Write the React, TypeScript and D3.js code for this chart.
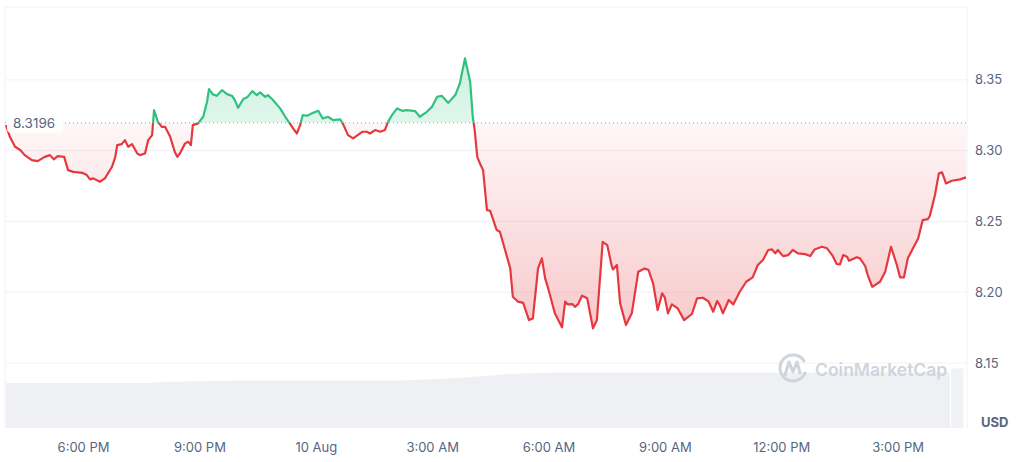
import * as d3 from 'd3';

// minutes after 4:00 PM, 9 Aug
const minutes = [0,6,14,22,29,40,49,60,68,74,80,90,96,104,118,125,130,135,145,153,164,169,172,179,184,189,195,203,207,215,220,226,229,235,241,246,254,261,265,269,277,282,286,289,297,305,311,314,320,326,334,342,350,354,359,367,373,381,388,393,401,405,413,424,432,439,444,450,455,459,466,473,483,490,498,506,517,521,529,537,544,551,558,563,571,579,586,591,597,605,613,620,633,640,651,659,667,674,684,695,702,710,718,722,725,729,733,738,744,749,759,764,772,780,784,792,800,809,815,823,829,834,838,849,860,865,869,876,880,885,891,899,908,914,923,930,937,939,945,950,959,968,978,988,994,1001,1008,1015,1019,1024,1030,1039,1049,1061,1069,1078,1087,1094,1100,1104,1109,1118,1125,1135,1145,1155,1163,1171,1179,1185,1190,1194,1202,1210,1217,1225,1236,1244,1251,1262,1270,1278,1285,1290,1295,1301,1304,1316,1321,1329,1333,1340,1344,1352,1360,1369,1378,1383,1389,1395,1403,1411,1418,1426,1429,1437,1443,1448,1454,1463,1476,1485];

const prices = [8.3180,8.3097,8.3027,8.3004,8.2968,8.2933,8.2926,8.2956,8.2968,8.2938,8.2961,8.2956,8.2862,8.2850,8.2843,8.2827,8.2797,8.2804,8.2780,8.2804,8.2886,8.2954,8.3039,8.3046,8.3074,8.3027,8.3046,8.2980,8.2968,8.2980,8.3074,8.3109,8.3286,8.3203,8.3168,8.3168,8.3097,8.2992,8.2956,8.2980,8.3051,8.3062,8.3039,8.3180,8.3192,8.3239,8.3345,8.3434,8.3397,8.3387,8.3427,8.3399,8.3385,8.3357,8.3302,8.3364,8.3376,8.3420,8.3392,8.3411,8.3380,8.3392,8.3357,8.3298,8.3239,8.3192,8.3157,8.3121,8.3180,8.3251,8.3246,8.3263,8.3281,8.3227,8.3239,8.3215,8.3220,8.3192,8.3109,8.3086,8.3109,8.3133,8.3133,8.3121,8.3145,8.3133,8.3145,8.3203,8.3251,8.3298,8.3281,8.3286,8.3279,8.3239,8.3274,8.3309,8.3380,8.3387,8.3337,8.3392,8.3474,8.3651,8.3486,8.3239,8.3145,8.2956,8.2910,8.2862,8.2580,8.2575,8.2439,8.2427,8.2298,8.2168,8.1968,8.1933,8.1925,8.1803,8.1815,8.2168,8.2239,8.2098,8.2038,8.1851,8.1752,8.1933,8.1914,8.1916,8.1897,8.1916,8.1975,8.1957,8.1745,8.1803,8.2356,8.2333,8.2185,8.2161,8.2192,8.1921,8.1768,8.1851,8.2144,8.2168,8.2156,8.2062,8.1874,8.1992,8.1964,8.1851,8.1914,8.1886,8.1803,8.1846,8.1957,8.1961,8.1933,8.1862,8.1937,8.1909,8.1851,8.1945,8.1914,8.2003,8.2074,8.2105,8.2192,8.2227,8.2298,8.2302,8.2274,8.2298,8.2255,8.2262,8.2298,8.2274,8.2269,8.2255,8.2302,8.2321,8.2310,8.2262,8.2199,8.2197,8.2262,8.2250,8.2222,8.2247,8.2239,8.2185,8.2121,8.2038,8.2050,8.2074,8.2144,8.2321,8.2192,8.2105,8.2105,8.2239,8.2310,8.2380,8.2509,8.2516,8.2538,8.2686,8.2839,8.2846,8.2768,8.2787,8.2797,8.2811];

const volMinutes = [0, 220, 240, 370, 610, 700, 780, 850, 1460];
const volValues = [45, 45, 46, 47.5, 47.5, 50, 54, 55.5, 55.5];
const lastVolStart = 1462;
const lastVolEnd = 1481;
const lastVol = 59.5;

const openPrice = 8.3196;
const yTicks = [8.15, 8.2, 8.25, 8.3, 8.35];

const W = 1024;
const H = 462;
const RED = '#e5393f';
const GREEN = '#2fc27f';
const TEXT = '#58667e';
const GRID = '#eff2f5';
const MARK = '#cfd4dd';
const FONT = 'Inter, "Noto Sans", sans-serif';

const t0 = new Date(2024, 7, 9, 16, 0);
const toDate = (m: number) => new Date(t0.getTime() + m * 60000);

export default function App() {
  const data = d3.zip(minutes, prices).map(([m, p]) => ({ t: toDate(m), p }));
  const vol = d3.zip(volMinutes, volValues).map(([m, v]) => ({ t: toDate(m), v }));

  const x = d3.scaleTime().domain([t0, toDate(1485)]).range([6, 966]);
  const y = d3.scaleLinear().domain([8.15, 8.40]).range([363, 9]);
  const yv = d3.scaleLinear().domain([0, 60]).range([428, 368]);

  const baseY = y(openPrice);
  const line = d3.line<{ t: Date; p: number }>().x(d => x(d.t)).y(d => y(d.p));
  const area = d3.area<{ t: Date; p: number }>().x(d => x(d.t)).y0(baseY).y1(d => y(d.p));
  const volArea = d3.area<{ t: Date; v: number }>().x(d => x(d.t)).y0(yv(0)).y1(d => yv(d.v));

  const xTicks = x.ticks(d3.timeHour.every(3)!);
  const fmtTick = (d: Date) => (d.getHours() === 0 ? d3.timeFormat('%-d %b')(d) : d3.timeFormat('%-I:%M %p')(d));

  const lp = line(data) || '';
  const ap = area(data) || '';

  return (
    <svg width={W} height={H} style={{ position: 'absolute', left: 0, top: 0, fontFamily: FONT }}>
      <defs>
        <clipPath id="above"><rect x={0} y={0} width={W} height={baseY} /></clipPath>
        <clipPath id="below"><rect x={0} y={baseY} width={W} height={H - baseY} /></clipPath>
        <linearGradient id="redFill" gradientUnits="userSpaceOnUse" x1={0} y1={baseY} x2={0} y2={y(8.175)}>
          <stop offset="0" stopColor={RED} stopOpacity={0.04} />
          <stop offset="1" stopColor={RED} stopOpacity={0.27} />
        </linearGradient>
        <linearGradient id="greenFill" gradientUnits="userSpaceOnUse" x1={0} y1={y(8.365)} x2={0} y2={baseY}>
          <stop offset="0" stopColor={GREEN} stopOpacity={0.24} />
          <stop offset="1" stopColor={GREEN} stopOpacity={0.15} />
        </linearGradient>
      </defs>

      {/* frame + grid */}
      <line x1={5} x2={967} y1={7} y2={7} stroke={GRID} />
      <line x1={5} x2={5} y1={7} y2={428} stroke={GRID} />
      <line x1={967} x2={967} y1={7} y2={428} stroke={GRID} />
      {yTicks.map(v => (
        <g key={v}>
          <line x1={5} x2={967} y1={y(v)} y2={y(v)} stroke={GRID} />
          <text x={975} y={y(v)} dy="0.35em" fontSize={13} fill={TEXT}>{v.toFixed(2)}</text>
        </g>
      ))}

      {/* volume */}
      <path d={volArea(vol) || ''} fill="#eef0f3" />
      <rect x={x(toDate(lastVolStart))} y={yv(lastVol)} width={x(toDate(lastVolEnd)) - x(toDate(lastVolStart))} height={yv(0) - yv(lastVol)} fill="#f1f2f5" />

      {/* watermark */}
      <g>
        <path d="M 805 373 A 13 13 0 1 1 804 361" fill="none" stroke={MARK} strokeWidth={3} strokeLinecap="round" />
        <path d="M 785 375 L 789 362 L 793 372 L 797 362 L 800 373" fill="none" stroke={MARK} strokeWidth={3} strokeLinejoin="round" strokeLinecap="round" />
        <text x={815} y={376} fontSize={17.5} fontWeight={600} fill={MARK}>CoinMarketCap</text>
      </g>

      {/* fills */}
      <path d={ap} fill="url(#greenFill)" clipPath="url(#above)" />
      <path d={ap} fill="url(#redFill)" clipPath="url(#below)" />

      {/* open price reference */}
      <line x1={5} x2={967} y1={baseY} y2={baseY} stroke="#9aa1ad" strokeWidth={1} strokeDasharray="1 3" />

      {/* price line */}
      <path d={lp} fill="none" stroke={GREEN} strokeWidth={2.2} strokeLinejoin="round" clipPath="url(#above)" />
      <path d={lp} fill="none" stroke={RED} strokeWidth={2.2} strokeLinejoin="round" clipPath="url(#below)" />

      {/* open label */}
      <rect x={7} y={baseY - 10} width={56} height={20} rx={4} fill="#ffffff" opacity={0.9} />
      <text x={13} y={baseY} dy="0.35em" fontSize={13.5} fill={TEXT}>{openPrice.toFixed(4)}</text>

      {/* x axis */}
      {xTicks.map(d => (
        <text key={+d} x={x(d)} y={447} dy="0.35em" textAnchor="middle" fontSize={13} fill={TEXT}>{fmtTick(d)}</text>
      ))}
      <text x={981} y={422} dy="0.35em" fontSize={13} fontWeight={700} fill={TEXT}>USD</text>
    </svg>
  );
}
